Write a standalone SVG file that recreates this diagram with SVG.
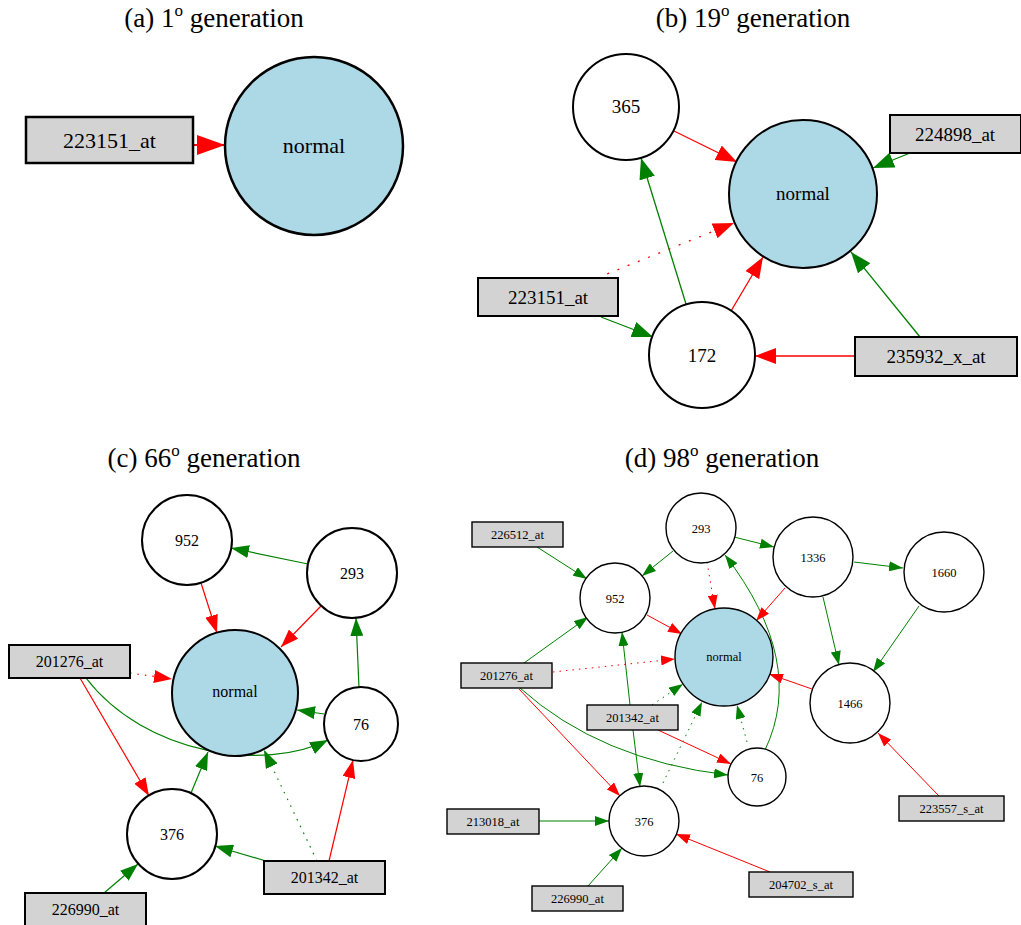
<svg xmlns="http://www.w3.org/2000/svg" width="1021" height="925" viewBox="0 0 1021 925" font-family="'Liberation Serif', 'Times New Roman', serif">
<style>
svg text{font-family:"Liberation Serif","Times New Roman",serif;fill:#000;text-anchor:middle}
.title{font-size:27px}
.sup{font-size:17px}
.box{fill:#d3d3d3;stroke:#000}
.main{fill:#add8e6;stroke:#000}
.c{fill:#fff;stroke:#000}
.e{fill:none}
.r{stroke:#ff0000}
.g{stroke:#008000}
.pa .box,.pa .main{stroke-width:2.5}
.pb .box,.pb .main,.pb .c{stroke-width:2}
.pc .box,.pc .main,.pc .c{stroke-width:2}
.pd .box,.pd .main,.pd .c{stroke-width:1.4}
.pa text{font-size:22px;font-family:"Liberation Serif","Times New Roman",serif}
.pb text{font-size:19px;font-family:"Liberation Serif","Times New Roman",serif}
.pc text{font-size:16px;font-family:"Liberation Serif","Times New Roman",serif}
.pd text{font-size:12.5px;font-family:"Liberation Serif","Times New Roman",serif}
.ea{stroke-width:2}
.eb{stroke-width:1.3}
.ec{stroke-width:1.2}
.ed{stroke-width:1}
.dotb{stroke-dasharray:2 9}
.dotc{stroke-dasharray:1.5 6}
.dotd{stroke-dasharray:1.5 5}
</style>
<defs>
<marker id="mRa" markerUnits="userSpaceOnUse" viewBox="0 0 28 20" refX="28" refY="10" markerWidth="28" markerHeight="20" orient="auto"><path d="M0,0 L28,10 L0,20 z" fill="#ff0000"/></marker>
<marker id="mRb" markerUnits="userSpaceOnUse" viewBox="0 0 21 16" refX="21" refY="8" markerWidth="21" markerHeight="16" orient="auto"><path d="M0,0 L21,8 L0,16 z" fill="#ff0000"/></marker>
<marker id="mGb" markerUnits="userSpaceOnUse" viewBox="0 0 21 16" refX="21" refY="8" markerWidth="21" markerHeight="16" orient="auto"><path d="M0,0 L21,8 L0,16 z" fill="#008000"/></marker>
<marker id="mRc" markerUnits="userSpaceOnUse" viewBox="0 0 18 13" refX="18" refY="6.5" markerWidth="18" markerHeight="13" orient="auto"><path d="M0,0 L18,6.5 L0,13 z" fill="#ff0000"/></marker>
<marker id="mGc" markerUnits="userSpaceOnUse" viewBox="0 0 18 13" refX="18" refY="6.5" markerWidth="18" markerHeight="13" orient="auto"><path d="M0,0 L18,6.5 L0,13 z" fill="#008000"/></marker>
<marker id="mRd" markerUnits="userSpaceOnUse" viewBox="0 0 14 10" refX="14" refY="5" markerWidth="14" markerHeight="10" orient="auto"><path d="M0,0 L14,5 L0,10 z" fill="#ff0000"/></marker>
<marker id="mGd" markerUnits="userSpaceOnUse" viewBox="0 0 14 10" refX="14" refY="5" markerWidth="14" markerHeight="10" orient="auto"><path d="M0,0 L14,5 L0,10 z" fill="#008000"/></marker>
</defs>
<rect width="1021" height="925" fill="#fff"/>

<g id="titles">
<text class="title" x="214" y="27">(a) 1<tspan class="sup" dy="-11">o</tspan><tspan dy="11"> generation</tspan></text>
<text class="title" x="753" y="27">(b) 19<tspan class="sup" dy="-11">o</tspan><tspan dy="11"> generation</tspan></text>
<text class="title" x="204" y="467">(c) 66<tspan class="sup" dy="-11">o</tspan><tspan dy="11"> generation</tspan></text>
<text class="title" x="722" y="467">(d) 98<tspan class="sup" dy="-11">o</tspan><tspan dy="11"> generation</tspan></text>
</g>

<g id="connectors">
<!-- a -->
<path class="e r ea" d="M193,145 L225,145" marker-end="url(#mRa)"/>
<!-- b -->
<path class="e r eb" d="M674,131 L737,162" marker-end="url(#mRb)"/>
<path class="e g eb" d="M910,153 L873,168" marker-end="url(#mGb)"/>
<path class="e r eb dotb" d="M597,278 L734,223" marker-end="url(#mRb)"/>
<path class="e g eb" d="M686,304 L641,158" marker-end="url(#mGb)"/>
<path class="e r eb" d="M731,311 L763,257" marker-end="url(#mRb)"/>
<path class="e g eb" d="M601,317 L653,337" marker-end="url(#mGb)"/>
<path class="e g eb" d="M920,337 L851,252" marker-end="url(#mGb)"/>
<path class="e r eb" d="M855,356 L755,356" marker-end="url(#mRb)"/>
<!-- c -->
<path class="e g ec" d="M308,564 L231,548" marker-end="url(#mGc)"/>
<path class="e r ec" d="M201,583 L217,633" marker-end="url(#mRc)"/>
<path class="e r ec" d="M321,606 L281,647" marker-end="url(#mRc)"/>
<path class="e g ec" d="M359,688 L356,618" marker-end="url(#mGc)"/>
<path class="e r ec dotc" d="M130,673 L172,679" marker-end="url(#mRc)"/>
<path class="e g ec" d="M324,714 L297,710" marker-end="url(#mGc)"/>
<path class="e r ec" d="M80,678 L149,796" marker-end="url(#mRc)"/>
<path class="e g ec" d="M86,678 C145,755 265,772 328,740" marker-end="url(#mGc)"/>
<path class="e g ec" d="M191,793 L208,752" marker-end="url(#mGc)"/>
<path class="e g ec dotc" d="M317,861 L264,750" marker-end="url(#mGc)"/>
<path class="e r ec" d="M329,861 L353,760" marker-end="url(#mRc)"/>
<path class="e g ec" d="M266,861 L215,846" marker-end="url(#mGc)"/>
<path class="e g ec" d="M104,893 L138,864" marker-end="url(#mGc)"/>
<!-- d -->
<path class="e g ed" d="M537,547 L587,579" marker-end="url(#mGd)"/>
<path class="e g ed" d="M673,551 L642,576" marker-end="url(#mGd)"/>
<path class="e g ed" d="M734,537 L774,547" marker-end="url(#mGd)"/>
<path class="e r ed dotd" d="M707,562 L715,609" marker-end="url(#mRd)"/>
<path class="e g ed" d="M765,750 Q807,662 725,555" marker-end="url(#mGd)"/>
<path class="e r ed" d="M785,588 L756,621" marker-end="url(#mRd)"/>
<path class="e g ed" d="M854,562 L903,568" marker-end="url(#mGd)"/>
<path class="e g ed" d="M823,597 L839,665" marker-end="url(#mGd)"/>
<path class="e g ed" d="M919,606 L873,672" marker-end="url(#mGd)"/>
<path class="e r ed" d="M812,689 L769,674" marker-end="url(#mRd)"/>
<path class="e r ed" d="M939,796 L878,733" marker-end="url(#mRd)"/>
<path class="e r ed" d="M647,615 L682,634" marker-end="url(#mRd)"/>
<path class="e g ed" d="M524,663 L588,617" marker-end="url(#mGd)"/>
<path class="e r ed dotd" d="M553,672 L675,659" marker-end="url(#mRd)"/>
<path class="e g ed dotd" d="M652,705 L683,684" marker-end="url(#mGd)"/>
<path class="e g ed" d="M630,705 L622,632" marker-end="url(#mGd)"/>
<path class="e g ed" d="M633,730 L640,787" marker-end="url(#mGd)"/>
<path class="e r ed" d="M658,730 L731,764" marker-end="url(#mRd)"/>
<path class="e g ed" d="M520,688 Q600,760 728,775" marker-end="url(#mGd)"/>
<path class="e r ed" d="M519,689 L620,796" marker-end="url(#mRd)"/>
<path class="e g ed" d="M539,821 L609,821" marker-end="url(#mGd)"/>
<path class="e g ed" d="M588,886 L622,848" marker-end="url(#mGd)"/>
<path class="e r ed" d="M770,872 L676,834" marker-end="url(#mRd)"/>
<path class="e g ed dotd" d="M663,783 L702,702" marker-end="url(#mGd)"/>
<path class="e g ed dotd" d="M747,742 L737,705" marker-end="url(#mGd)"/>
</g>

<g class="pa">
<g id="a_223151_at"><rect class="box" x="26" y="117" width="167" height="46"/><text x="109.5" y="148">223151_at</text></g>
<g id="a_normal"><circle class="main" cx="314" cy="146" r="89"/><text x="314" y="153">normal</text></g>
</g>

<g class="pb">
<g id="b_365"><circle class="c" cx="626" cy="107" r="53"/><text x="626" y="113">365</text></g>
<g id="b_normal"><circle class="main" cx="803" cy="194" r="74"/><text x="803" y="200">normal</text></g>
<g id="b_172"><circle class="c" cx="702" cy="355" r="53"/><text x="702" y="362">172</text></g>
<g id="b_224898_at"><rect class="box" x="890" y="115" width="131" height="38"/><text x="955" y="141">224898_at</text></g>
<g id="b_223151_at"><rect class="box" x="478" y="278" width="140" height="38"/><text x="548" y="304">223151_at</text></g>
<g id="b_235932_x_at"><rect class="box" x="855" y="337" width="162" height="39"/><text x="936" y="363">235932_x_at</text></g>
</g>

<g class="pc">
<g id="c_952"><circle class="c" cx="187" cy="540" r="45"/><text x="187" y="545.5">952</text></g>
<g id="c_293"><circle class="c" cx="352" cy="573" r="45"/><text x="352" y="578.5">293</text></g>
<g id="c_normal"><circle class="main" cx="235" cy="693" r="63"/><text x="235" y="697">normal</text></g>
<g id="c_76"><circle class="c" cx="361" cy="724" r="37"/><text x="361" y="729.5">76</text></g>
<g id="c_376"><circle class="c" cx="172" cy="834" r="45"/><text x="172" y="839.5">376</text></g>
<g id="c_201276_at"><rect class="box" x="9" y="645" width="121" height="33"/><text x="69.5" y="667">201276_at</text></g>
<g id="c_201342_at"><rect class="box" x="264" y="861" width="121" height="33"/><text x="324.5" y="883">201342_at</text></g>
<g id="c_226990_at"><rect class="box" x="25" y="893" width="121" height="33"/><text x="85.5" y="915">226990_at</text></g>
</g>

<g class="pd">
<g id="d_952"><circle class="c" cx="615" cy="598" r="35"/><text x="615" y="602.5">952</text></g>
<g id="d_293"><circle class="c" cx="701" cy="528" r="35"/><text x="701" y="532.5">293</text></g>
<g id="d_1336"><circle class="c" cx="813" cy="557" r="40"/><text x="813" y="561.5">1336</text></g>
<g id="d_1660"><circle class="c" cx="944" cy="572" r="40"/><text x="944" y="576.5">1660</text></g>
<g id="d_1466"><circle class="c" cx="850" cy="703" r="40"/><text x="850" y="707.5">1466</text></g>
<g id="d_normal"><circle class="main" cx="724" cy="657" r="49"/><text x="724" y="661">normal</text></g>
<g id="d_76"><circle class="c" cx="757" cy="777" r="29"/><text x="757" y="781.5">76</text></g>
<g id="d_376"><circle class="c" cx="644" cy="821" r="35"/><text x="644" y="825.5">376</text></g>
<g id="d_226512_at"><rect class="box" x="472" y="522" width="91" height="25"/><text x="517.5" y="539">226512_at</text></g>
<g id="d_201276_at"><rect class="box" x="461" y="663" width="91" height="25"/><text x="506.5" y="680">201276_at</text></g>
<g id="d_201342_at"><rect class="box" x="587" y="705" width="91" height="25"/><text x="632.5" y="722">201342_at</text></g>
<g id="d_213018_at"><rect class="box" x="447" y="809" width="92" height="25"/><text x="493" y="826">213018_at</text></g>
<g id="d_226990_at"><rect class="box" x="532" y="886" width="91" height="25"/><text x="577.5" y="903">226990_at</text></g>
<g id="d_204702_s_at"><rect class="box" x="749" y="872" width="104" height="25"/><text x="801" y="889">204702_s_at</text></g>
<g id="d_223557_s_at"><rect class="box" x="899" y="796" width="105" height="25"/><text x="951.5" y="813">223557_s_at</text></g>
</g>
</svg>
